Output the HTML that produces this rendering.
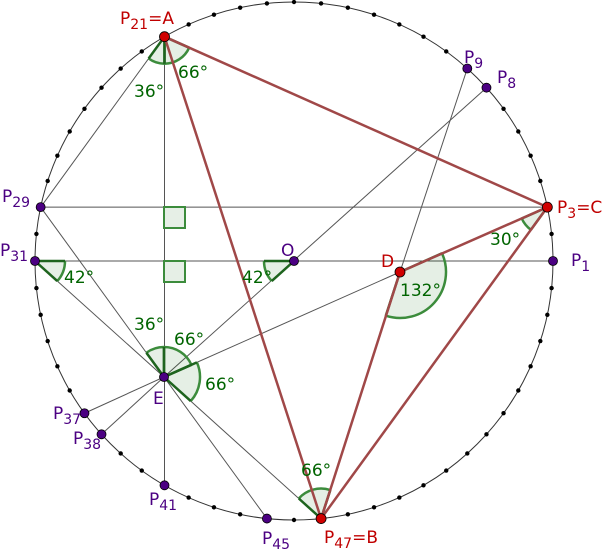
<!DOCTYPE html>
<html><head><meta charset="utf-8"><style>
html,body{margin:0;padding:0;background:#fff}
svg{display:block}
text{font-family:"DejaVu Sans","Liberation Sans",sans-serif}
</style></head><body>
<svg id="s" width="605" height="553" viewBox="0 0 605 553" xmlns="http://www.w3.org/2000/svg">
<circle cx="294" cy="261" r="259" fill="none" stroke="#333" stroke-width="1"/>
<g id="thin" stroke="#555" stroke-width="1" fill="none"></g>
<g id="wedges"></g>
<g id="red" stroke="#a04848" stroke-width="2.5" fill="none"></g>
<g id="dots"></g>
<g font-size="17" fill="#006400">
<text x="134" y="97">36°</text>
<text x="178" y="78">66°</text>
<text x="134" y="330">36°</text>
<text x="174" y="345">66°</text>
<text x="205" y="390">66°</text>
<text x="64" y="283">42°</text>
<text x="242" y="283">42°</text>
<text x="490" y="245">30°</text>
<text x="400" y="296">132°</text>
<text x="301" y="476">66°</text>
</g>
<g font-size="17" fill="#c00000">
<text x="120" y="24">P<tspan font-size="14" dy="5">21</tspan><tspan dy="-5">=A</tspan></text>
<text x="557" y="213">P<tspan font-size="14" dy="5">3</tspan><tspan dy="-5">=C</tspan></text>
<text x="381" y="267">D</text>
<text x="324" y="543">P<tspan font-size="14" dy="5">47</tspan><tspan dy="-5">=B</tspan></text>
</g>
<g font-size="17" fill="#4b0082">
<text x="464" y="63">P<tspan font-size="14" dy="5">9</tspan></text>
<text x="497" y="83">P<tspan font-size="14" dy="5">8</tspan></text>
<text x="2" y="202">P<tspan font-size="14" dy="5">29</tspan></text>
<text x="0" y="256">P<tspan font-size="14" dy="5">31</tspan></text>
<text x="571" y="266">P<tspan font-size="14" dy="5">1</tspan></text>
<text x="281" y="256">O</text>
<text x="153" y="404">E</text>
<text x="53" y="419">P<tspan font-size="14" dy="5">37</tspan></text>
<text x="73" y="444">P<tspan font-size="14" dy="5">38</tspan></text>
<text x="149" y="505">P<tspan font-size="14" dy="5">41</tspan></text>
<text x="262" y="544">P<tspan font-size="14" dy="5">45</tspan></text>
</g>
</svg>
<script>
var NS="http://www.w3.org/2000/svg";
function P(k){var a=(k-1)*6*Math.PI/180;return [294+259*Math.cos(a),261-259*Math.sin(a)];}
function el(t,at,par){var e=document.createElementNS(NS,t);for(var k in at)e.setAttribute(k,at[k]);document.getElementById(par).appendChild(e);return e;}
var E=[164,377],D=[400,272],O=[294,261],A=P(21),B=P(47),C=P(3);
function ln(a,b,par){el("line",{x1:a[0],y1:a[1],x2:b[0],y2:b[1]},par);}
ln(P(21),P(41),"thin");ln(P(29),P(3),"thin");ln(P(31),P(1),"thin");
ln(A,P(29),"thin");ln(P(29),E,"thin");ln(P(31),E,"thin");ln(E,P(8),"thin");
ln(E,P(37),"thin");ln(E,P(38),"thin");ln(E,D,"thin");ln(E,P(45),"thin");ln(E,B,"thin");
ln(D,P(9),"thin");
el("rect",{x:164,y:207,width:21,height:21,fill:"#e6efe6",stroke:"#3c8c3c","stroke-width":2},"wedges");
el("rect",{x:164,y:261,width:21,height:21,fill:"#e6efe6",stroke:"#3c8c3c","stroke-width":2},"wedges");
function wedge(c,r,a1,a2){var t1=a1*Math.PI/180,t2=a2*Math.PI/180;
var x1=c[0]+r*Math.cos(t1),y1=c[1]+r*Math.sin(t1),x2=c[0]+r*Math.cos(t2),y2=c[1]+r*Math.sin(t2);
var lg=(a2-a1)>180?1:0;
el("path",{d:"M"+c[0]+","+c[1]+" L"+x1+","+y1+" A"+r+","+r+" 0 "+lg+" 1 "+x2+","+y2+" Z",fill:"rgba(0,100,0,0.1)",stroke:"none"},"wedges");
el("path",{d:"M"+x1+","+y1+" A"+r+","+r+" 0 "+lg+" 1 "+x2+","+y2,fill:"none",stroke:"#3c8c3c","stroke-width":2.5},"wedges");
el("path",{d:"M"+x1+","+y1+" L"+c[0]+","+c[1]+" L"+x2+","+y2,fill:"none",stroke:"#1e641e","stroke-width":2.5},"wedges");}
wedge(A,27,90,126);wedge(A,27,24,90);
wedge(E,30,-126,-90);wedge(E,30,-90,-24);wedge(E,36,-24,42);
wedge(P(31),30,0,42);wedge(O,30,138,180);
wedge(C,28,126,156);wedge(D,46,-24,108);wedge(B,30,-138,-72);
ln(A,C,"red");ln(A,B,"red");ln(C,B,"red");ln(C,D,"red");ln(D,B,"red");
var lab={1:1,8:1,9:1,29:1,31:1,37:1,38:1,41:1,45:1};
for(var k=1;k<=60;k++){var p=P(k);if(k==3||k==21||k==47)continue;
if(lab[k])el("circle",{cx:p[0],cy:p[1],r:4.5,fill:"#4b0082",stroke:"#000","stroke-width":0.8},"dots");
else el("circle",{cx:p[0],cy:p[1],r:2.2,fill:"#000"},"dots");}
el("circle",{cx:O[0],cy:O[1],r:4.5,fill:"#4b0082",stroke:"#000","stroke-width":0.8},"dots");
el("circle",{cx:E[0],cy:E[1],r:4.5,fill:"#4b0082",stroke:"#000","stroke-width":0.8},"dots");
[A,B,C,D].forEach(function(p){el("circle",{cx:p[0],cy:p[1],r:5,fill:"#d00000",stroke:"#000","stroke-width":0.8},"dots");});
</script>
</body></html>
